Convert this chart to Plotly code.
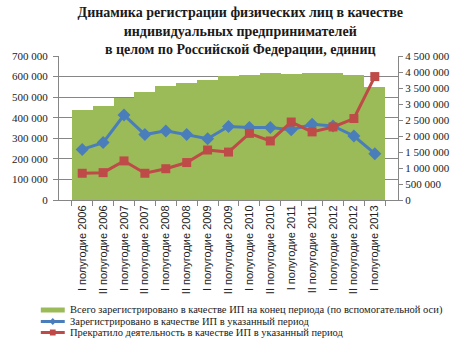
import plotly.graph_objects as go

periods = [
    "I полугодие 2006", "II полугодие 2006", "I полугодие 2007", "II полугодие 2007",
    "I полугодие 2008", "II полугодие 2008", "I полугодие 2009", "II полугодие 2009",
    "I полугодие 2010", "II полугодие 2010", "I полугодие 2011", "II полугодие 2011",
    "I полугодие 2012", "II полугодие 2012", "I полугодие 2013",
]
total_registered = [2820000, 2940000, 3180000, 3380000, 3550000, 3670000, 3750000, 3860000,
                    3910000, 3970000, 3940000, 3970000, 3970000, 3910000, 3540000]
registered = [246000, 279000, 413000, 318000, 336000, 318000, 298000, 357000,
              352000, 352000, 341000, 368000, 360000, 311000, 225000]
ceased = [130000, 133000, 190000, 130000, 152000, 182000, 243000, 233000,
          324000, 287000, 379000, 331000, 355000, 396000, 600000]

left_ticks = list(range(0, 700001, 100000))
right_ticks = list(range(0, 4500001, 500000))

series_names = [
    "Всего зарегистрировано в качестве ИП на конец периода (по вспомогательной оси)",
    "Зарегистрировано в качестве ИП в указанный период",
    "Прекратило деятельность в качестве ИП в указанный период",
]
GREEN, BLUE, RED = "#9BBB59", "#4A7EBB", "#BE4B48"

serif = "'Liberation Serif', 'Times New Roman', serif"
sans = "'Liberation Sans', Arial, sans-serif"

# plot area in pixels (left, right, top, bottom) used to place the legend
PL, PR, PT, PB = 49, 403, 56, 200


def px_x(px):
    return (px - PL) / (PR - PL)


def px_y(py):
    return (PB - py) / (PB - PT)


fig = go.Figure()
fig.add_trace(go.Bar(
    x=periods, y=total_registered, yaxis="y", name=series_names[0],
    marker=dict(color=GREEN, line=dict(width=0)),
))
fig.add_trace(go.Scatter(
    x=periods, y=registered, yaxis="y2", mode="lines+markers", name=series_names[1],
    line=dict(color=BLUE, width=3),
    marker=dict(symbol="diamond", size=10, color=BLUE),
))
fig.add_trace(go.Scatter(
    x=periods, y=ceased, yaxis="y2", mode="lines+markers", name=series_names[2],
    line=dict(color=RED, width=3),
    marker=dict(symbol="square", size=9, color=RED),
))

# legend drawn below the category labels
rows_py = [310, 321.5, 332.5]
sym_x0, sym_x1, text_x = 30, 55, 58
shapes = []
annotations = []
# bar swatch
shapes.append(dict(type="rect", xref="paper", yref="paper",
                   x0=px_x(sym_x0), x1=px_x(sym_x1),
                   y0=px_y(rows_py[0] - 2.5), y1=px_y(rows_py[0] + 2.5),
                   fillcolor=GREEN, line=dict(width=0)))
# line swatches with their markers
for py, color, kind in [(rows_py[1], BLUE, "diamond"), (rows_py[2], RED, "square")]:
    shapes.append(dict(type="line", xref="paper", yref="paper",
                       x0=px_x(sym_x0), x1=px_x(sym_x1), y0=px_y(py), y1=px_y(py),
                       line=dict(color=color, width=3)))
    cx = (sym_x0 + sym_x1) / 2
    if kind == "diamond":
        d = 3.5
        path = (f"M {px_x(cx - d)},{px_y(py)} L {px_x(cx)},{px_y(py - d)} "
                f"L {px_x(cx + d)},{px_y(py)} L {px_x(cx)},{px_y(py + d)} Z")
    else:
        d = 3
        path = (f"M {px_x(cx - d)},{px_y(py - d)} L {px_x(cx + d)},{px_y(py - d)} "
                f"L {px_x(cx + d)},{px_y(py + d)} L {px_x(cx - d)},{px_y(py + d)} Z")
    shapes.append(dict(type="path", xref="paper", yref="paper", path=path,
                       fillcolor=color, line=dict(color=color, width=0)))
for py, name in zip(rows_py, series_names):
    annotations.append(dict(xref="paper", yref="paper", x=px_x(text_x), y=px_y(py),
                            xanchor="left", yanchor="middle", showarrow=False,
                            text=name, font=dict(family=serif, size=10.5, color="#1a1a1a")))

fig.update_layout(
    width=462, height=348,
    margin=dict(l=PL, r=462 - PR, t=PT, b=348 - PB),
    paper_bgcolor="white", plot_bgcolor="white",
    separators=", ",
    bargap=0,
    showlegend=False,
    title=dict(
        text="<b>Динамика регистрации физических лиц в качестве<br>"
             "индивидуальных предпринимателей<br>"
             "в целом по Российской Федерации, единиц</b>",
        font=dict(family=serif, size=14, color="#1a1a1a"),
        x=0.52, xanchor="center", xref="container",
        y=0.95, yanchor="top", yref="container",
    ),
    xaxis=dict(
        type="category", tickangle=-90,
        tickfont=dict(family=sans, size=11, color="#222"),
        ticks="outside", tickson="boundaries", ticklen=5, tickcolor="#868686",
        showline=True, linecolor="#868686", linewidth=1,
        showgrid=False,
    ),
    yaxis=dict(
        side="right", range=[0, 4500000], tickvals=right_ticks,
        tickformat=",d",
        tickfont=dict(family=serif, size=11, color="#222"),
        ticks="outside", ticklen=4, tickcolor="#868686",
        showline=True, linecolor="#868686", linewidth=1,
        showgrid=False, zeroline=False,
    ),
    yaxis2=dict(
        side="left", overlaying="y", range=[0, 700000], tickvals=left_ticks,
        tickformat=",d",
        tickfont=dict(family=serif, size=11, color="#222"),
        ticks="outside", ticklen=5, tickcolor="#868686", ticklabelstandoff=3,
        showline=True, linecolor="#868686", linewidth=1,
        showgrid=True, gridcolor="#868686", gridwidth=1, zeroline=False,
    ),
    shapes=shapes,
    annotations=annotations,
)

fig.write_html("out.html")
